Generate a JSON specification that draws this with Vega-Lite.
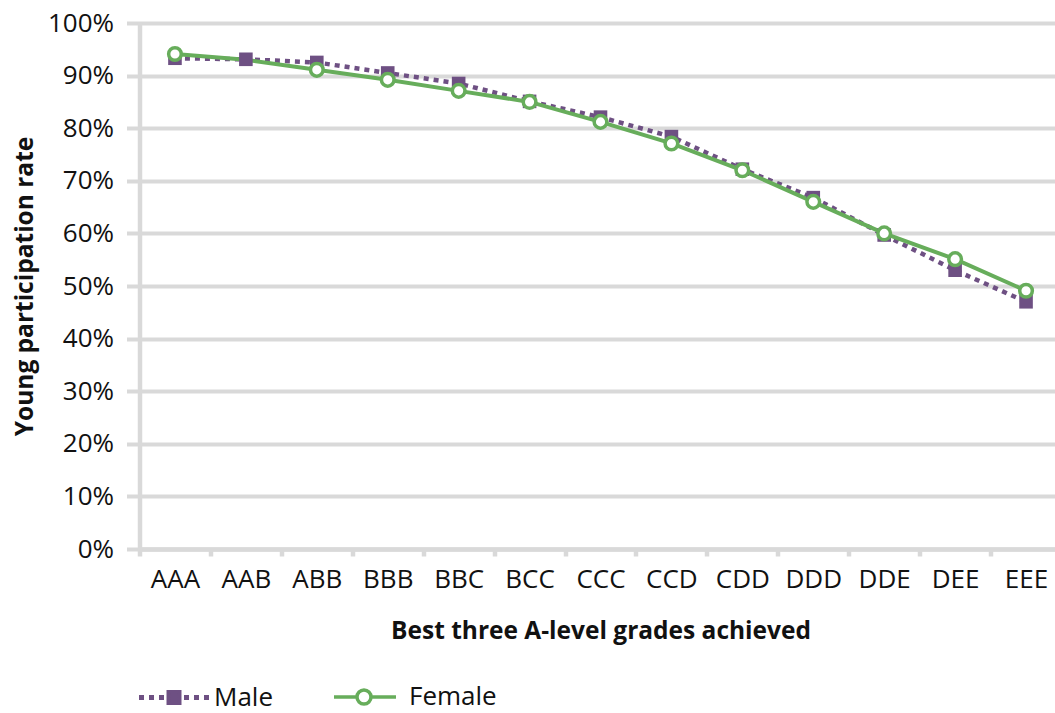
{
  "$schema": "https://vega.github.io/schema/vega-lite/v6.json",
  "width": 916,
  "height": 526,
  "autosize": {"type": "none"},
  "padding": {"left": 139.5, "top": 23, "right": 0, "bottom": 164},
  "background": "white",
  "config": {
    "view": {"stroke": null},
    "font": "Open Sans",
    "axis": {"labelFont": "Open Sans", "titleFont": "Open Sans", "labelColor": "#111111", "titleColor": "#111111"}
  },
  "data": {
    "values": [
      {"grade": "AAA", "series": "Male", "rate": 0.933, "marker": true},
      {"grade": "AAB", "series": "Male", "rate": 0.931, "marker": true},
      {"grade": "ABB", "series": "Male", "rate": 0.925, "marker": true},
      {"grade": "BBB", "series": "Male", "rate": 0.905, "marker": true},
      {"grade": "BBC", "series": "Male", "rate": 0.885, "marker": true},
      {"grade": "BCC", "series": "Male", "rate": 0.851, "marker": true},
      {"grade": "CCC", "series": "Male", "rate": 0.821, "marker": true},
      {"grade": "CCD", "series": "Male", "rate": 0.784, "marker": true},
      {"grade": "CDD", "series": "Male", "rate": 0.722, "marker": true},
      {"grade": "DDD", "series": "Male", "rate": 0.668, "marker": true},
      {"grade": "DDE", "series": "Male", "rate": 0.597, "marker": true},
      {"grade": "DEE", "series": "Male", "rate": 0.530, "marker": true},
      {"grade": "EEE", "series": "Male", "rate": 0.470, "marker": true},
      {"grade": "AAA", "series": "Female", "rate": 0.941, "marker": true},
      {"grade": "AAB", "series": "Female", "rate": 0.930, "marker": false},
      {"grade": "ABB", "series": "Female", "rate": 0.911, "marker": true},
      {"grade": "BBB", "series": "Female", "rate": 0.892, "marker": true},
      {"grade": "BBC", "series": "Female", "rate": 0.871, "marker": true},
      {"grade": "BCC", "series": "Female", "rate": 0.850, "marker": true},
      {"grade": "CCC", "series": "Female", "rate": 0.812, "marker": true},
      {"grade": "CCD", "series": "Female", "rate": 0.771, "marker": true},
      {"grade": "CDD", "series": "Female", "rate": 0.720, "marker": true},
      {"grade": "DDD", "series": "Female", "rate": 0.660, "marker": true},
      {"grade": "DDE", "series": "Female", "rate": 0.600, "marker": true},
      {"grade": "DEE", "series": "Female", "rate": 0.551, "marker": true},
      {"grade": "EEE", "series": "Female", "rate": 0.491, "marker": true}
    ]
  },
  "encoding": {
    "x": {
      "field": "grade",
      "type": "ordinal",
      "sort": null,
      "scale": {"type": "band", "range": [0, 922], "paddingInner": 0, "paddingOuter": 0},
      "axis": {
        "title": "Best three A-level grades achieved",
        "titleFontSize": 24.5,
        "titleFontWeight": "bold",
        "titlePadding": 27,
        "labelFontSize": 26,
        "labelAngle": 0,
        "labelPadding": 10,
        "tickBand": "extent",
        "tickSize": 7,
        "tickColor": "#d9d9d9",
        "tickWidth": 4.5,
        "domainColor": "#d9d9d9",
        "domainWidth": 4.5,
        "grid": false,
        "encode": {"ticks": {"y": {"value": -6.5}, "y2": {"value": 6.5}}}
      }
    },
    "y": {
      "field": "rate",
      "type": "quantitative",
      "scale": {"domain": [0, 1]},
      "axis": {
        "title": "Young participation rate",
        "format": ".0%",
        "values": [0, 0.1, 0.2, 0.3, 0.4, 0.5, 0.6, 0.7, 0.8, 0.9, 1],
        "grid": true,
        "gridColor": "#d9d9d9",
        "gridWidth": 4,
        "tickSize": 13,
        "tickColor": "#d9d9d9",
        "tickWidth": 4,
        "domainColor": "#d9d9d9",
        "domainWidth": 4.5,
        "labelFontSize": 26,
        "labelPadding": 13,
        "titleFontSize": 24.5,
        "titleFontWeight": "bold",
        "titlePadding": 10
      }
    }
  },
  "layer": [
    {
      "transform": [{"filter": "datum.series === 'Male'"}],
      "mark": {"type": "line", "color": "#6E5083", "strokeWidth": 4.5, "strokeDash": [5, 5], "strokeCap": "butt"}
    },
    {
      "transform": [{"filter": "datum.series === 'Female'"}],
      "mark": {"type": "line", "color": "#67AD5B", "strokeWidth": 4}
    },
    {
      "transform": [{"filter": "datum.series === 'Male'"}],
      "mark": {"type": "point", "shape": "square", "filled": true, "color": "#6E5083", "size": 185, "opacity": 1, "strokeWidth": 0}
    },
    {
      "transform": [{"filter": "datum.series === 'Female' && datum.marker"}],
      "mark": {"type": "point", "shape": "circle", "filled": false, "stroke": "#67AD5B", "fill": "white", "size": 160, "strokeWidth": 3.5, "opacity": 1}
    },
    {
      "transform": [{"filter": "datum.series === 'none'"}],
      "mark": {"type": "point", "size": 4900, "opacity": 1, "strokeWidth": 3.5},
      "encoding": {
        "shape": {
          "field": "series",
          "type": "nominal",
          "scale": {"domain": ["Male", "Female"], "range": ["M-0.95,-0.021H-0.907V0.021H-0.95Z M-0.664,-0.021H-0.621V0.021H-0.664Z M-0.379,-0.021H-0.336V0.021H-0.379Z M-0.164,-0.164H0.164V0.164H-0.164Z M0.336,-0.021H0.379V0.021H0.336Z M0.621,-0.021H0.664V0.021H0.621Z M0.907,-0.021H0.95V0.021H0.907Z", "M-1,0H-0.343 M0.057,0H0.771 M0.057,0A0.2,0.2 0 1,1 -0.343,0A0.2,0.2 0 1,1 0.057,0Z"]},
          "legend": {"title": null, "orient": "none", "legendX": -2.5, "legendY": 637, "direction": "horizontal", "symbolSize": 4900, "symbolStrokeWidth": 3.5, "labelFontSize": 26, "labelFont": "Open Sans", "labelColor": "#111111", "labelOffset": 3, "columnPadding": 54, "padding": 0}
        },
        "fill": {
          "field": "series",
          "type": "nominal",
          "scale": {"domain": ["Male", "Female"], "range": ["#6E5083", "#ffffff"]},
          "legend": {"title": null, "orient": "none", "legendX": -2.5, "legendY": 637, "direction": "horizontal", "symbolSize": 4900, "symbolStrokeWidth": 3.5, "labelFontSize": 26, "labelFont": "Open Sans", "labelColor": "#111111", "labelOffset": 3, "columnPadding": 54, "padding": 0}
        },
        "stroke": {
          "field": "series",
          "type": "nominal",
          "scale": {"domain": ["Male", "Female"], "range": ["#6E5083", "#67AD5B"]},
          "legend": {"title": null, "orient": "none", "legendX": -2.5, "legendY": 637, "direction": "horizontal", "symbolSize": 4900, "symbolStrokeWidth": 3.5, "labelFontSize": 26, "labelFont": "Open Sans", "labelColor": "#111111", "labelOffset": 3, "columnPadding": 54, "padding": 0}
        }
      }
    }
  ]
}
